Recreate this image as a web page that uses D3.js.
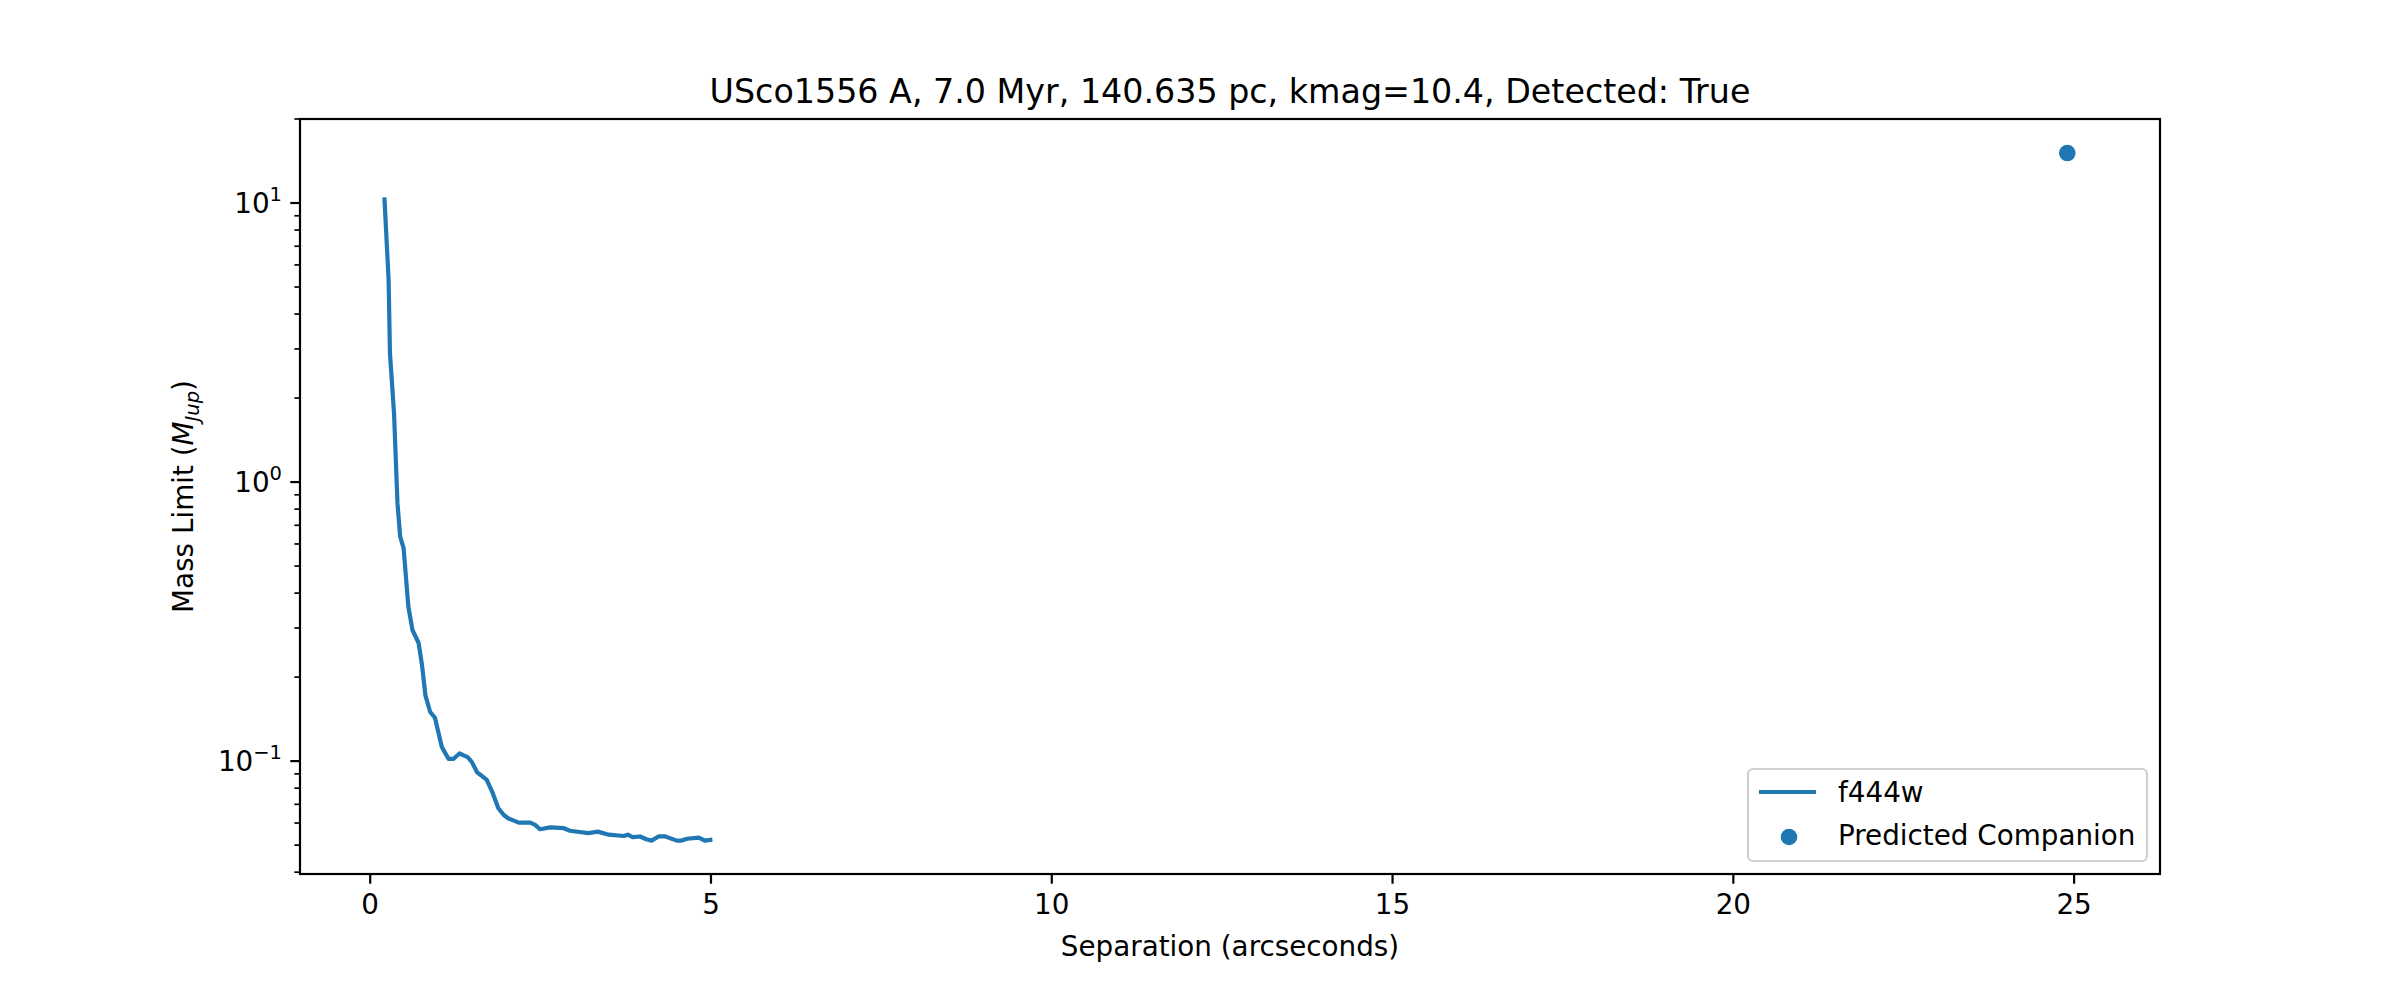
<!DOCTYPE html>
<html>
<head>
<meta charset="utf-8">
<script src="https://cdn.jsdelivr.net/npm/d3@7"></script>
<style>
  body { margin: 0; background: #fff; }
  text { font-family: "DejaVu Sans", sans-serif; fill: #000; }
</style>
</head>
<body>
<svg id="chart" width="2400" height="1000"></svg>
<script>
// f444w contrast curve (separation in arcsec, mass limit in M_Jup)
const sepValues = [0.21, 0.27, 0.29, 0.35, 0.40, 0.44, 0.49, 0.56, 0.62, 0.71, 0.76, 0.81, 0.88, 0.95, 1.05, 1.15, 1.22, 1.31, 1.43, 1.49, 1.57, 1.62, 1.71, 1.79, 1.88, 1.96, 2.03, 2.18, 2.35, 2.42, 2.49, 2.64, 2.84, 2.93, 3.20, 3.34, 3.50, 3.72, 3.78, 3.85, 3.96, 4.05, 4.13, 4.23, 4.33, 4.50, 4.57, 4.65, 4.82, 4.91, 4.99]
const massValues = [10.3, 5.3, 2.89, 1.76, 0.84, 0.637, 0.58, 0.358, 0.295, 0.265, 0.221, 0.172, 0.150, 0.143, 0.1125, 0.1018, 0.1018, 0.1065, 0.1033, 0.0994, 0.0911, 0.0892, 0.0856, 0.0776, 0.0678, 0.0641, 0.0623, 0.0602, 0.0602, 0.0591, 0.0570, 0.0579, 0.0575, 0.0563, 0.0552, 0.0559, 0.0545, 0.0539, 0.0545, 0.0534, 0.0537, 0.0525, 0.0519, 0.0537, 0.0537, 0.0519, 0.0519, 0.0527, 0.0532, 0.0519, 0.0522]
const companion = [{ sep: 24.9, mass: 15.1 }]
const xTicks = [0, 5, 10, 15, 20, 25]
const yMajor = [0.1, 1, 10]
const yExp = ['−1', '0', '1']

const curve = sepValues.map((s, i) => ({ sep: s, mass: massValues[i] }))
const blue = '#1f77b4'
const m = { l: 300, t: 119, r: 2160, b: 874 }
const svg = d3.select('#chart')

const x = d3.scaleLinear().domain([-1.03, 26.26]).range([m.l, m.r])
const y = d3.scaleLog().domain([0.0394, 20]).range([m.b, m.t])

// x axis
const xAxis = svg.append('g').attr('transform', `translate(0,${m.b})`)
xAxis.selectAll('line').data(xTicks).join('line')
  .attr('x1', d => x(d)).attr('x2', d => x(d)).attr('y1', 0).attr('y2', 9.7)
  .attr('stroke', '#000').attr('stroke-width', 2.2)
xAxis.selectAll('text').data(xTicks).join('text')
  .attr('x', d => x(d)).attr('y', 40).attr('text-anchor', 'middle')
  .attr('font-size', 27.8).text(d => d)

// y axis: major + minor log ticks
const yAxis = svg.append('g').attr('transform', `translate(${m.l},0)`)
const minor = []
;[0.01, 0.1, 1, 10].forEach(dec => {
  for (let k = 2; k <= 9; k++) {
    const v = dec * k
    if (v >= y.domain()[0] && v <= y.domain()[1]) minor.push(v)
  }
})
yAxis.selectAll('line.minor').data(minor).join('line').attr('class', 'minor')
  .attr('x1', -5.6).attr('x2', 0).attr('y1', d => y(d)).attr('y2', d => y(d))
  .attr('stroke', '#000').attr('stroke-width', 1.7)
yAxis.selectAll('line.major').data(yMajor).join('line').attr('class', 'major')
  .attr('x1', -9.7).attr('x2', 0).attr('y1', d => y(d)).attr('y2', d => y(d))
  .attr('stroke', '#000').attr('stroke-width', 2.2)
const yl = yAxis.selectAll('text').data(yMajor).join('text')
  .attr('x', -18).attr('y', d => y(d) + 10).attr('text-anchor', 'end').attr('font-size', 27.8)
yl.append('tspan').text('10')
yl.append('tspan').attr('dy', -12).attr('font-size', 19.5).text((d, i) => yExp[i])

// line
svg.append('path').datum(curve)
  .attr('d', d3.line().x(d => x(d.sep)).y(d => y(d.mass)))
  .attr('fill', 'none').attr('stroke', blue).attr('stroke-width', 4.2)
  .attr('stroke-linejoin', 'round').attr('stroke-linecap', 'square')

// companion
svg.selectAll('circle.comp').data(companion).join('circle').attr('class', 'comp')
  .attr('cx', d => x(d.sep)).attr('cy', d => y(d.mass)).attr('r', 8.3).attr('fill', blue)

// frame
svg.append('rect').attr('x', m.l).attr('y', m.t).attr('width', m.r - m.l).attr('height', m.b - m.t)
  .attr('fill', 'none').attr('stroke', '#000').attr('stroke-width', 2.2)

// labels
svg.append('text').attr('x', (m.l + m.r) / 2).attr('y', 103).attr('text-anchor', 'middle')
  .attr('font-size', 33.3).text('USco1556 A, 7.0 Myr, 140.635 pc, kmag=10.4, Detected: True')
svg.append('text').attr('x', (m.l + m.r) / 2).attr('y', 956).attr('text-anchor', 'middle')
  .attr('font-size', 27.8).text('Separation (arcseconds)')
const ylab = svg.append('text').attr('transform', `translate(193,${(m.t + m.b) / 2}) rotate(-90)`)
  .attr('text-anchor', 'middle').attr('font-size', 27.8)
ylab.append('tspan').text('Mass Limit (')
ylab.append('tspan').attr('font-style', 'italic').text('M')
ylab.append('tspan').attr('font-style', 'italic').attr('font-size', 19.5).attr('dy', 6).text('Jup')
ylab.append('tspan').attr('dy', -6).text(')')

// legend
const lg = svg.append('g')
lg.append('rect').attr('x', 1748).attr('y', 769).attr('width', 399).attr('height', 92).attr('rx', 5)
  .attr('fill', '#fff').attr('fill-opacity', 0.8).attr('stroke', '#d0d0d0').attr('stroke-width', 2.2)
lg.append('line').attr('x1', 1759).attr('x2', 1816).attr('y1', 792).attr('y2', 792)
  .attr('stroke', blue).attr('stroke-width', 4.2)
lg.append('text').attr('x', 1838).attr('y', 802).attr('font-size', 27.8).text('f444w')
lg.append('circle').attr('cx', 1789).attr('cy', 837).attr('r', 8.3).attr('fill', blue)
lg.append('text').attr('x', 1838).attr('y', 845).attr('font-size', 27.8).text('Predicted Companion')
</script>
</body>
</html>
